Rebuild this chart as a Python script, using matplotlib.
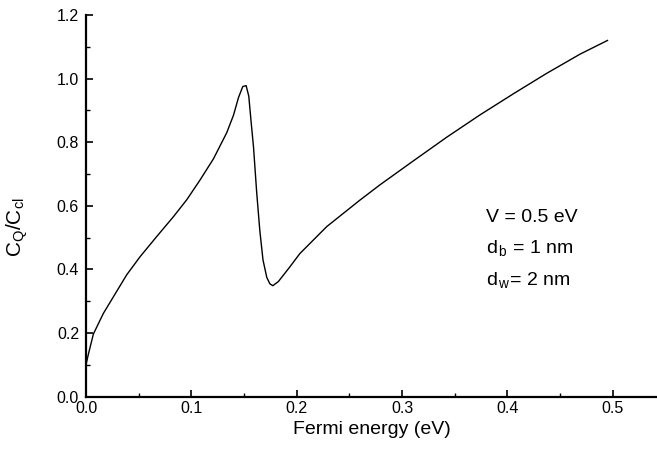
import matplotlib
matplotlib.use("Agg")
import matplotlib.pyplot as plt
from matplotlib.ticker import MultipleLocator

plt.rcParams['font.family'] = ['Liberation Sans', 'DejaVu Sans']
plt.rcParams['mathtext.fontset'] = 'custom'
plt.rcParams['mathtext.rm'] = 'Liberation Sans'
plt.rcParams['mathtext.it'] = 'Liberation Sans'

# Fermi energy (eV)
energy = [0.0, 0.002, 0.007, 0.0165, 0.026, 0.0386, 0.0513, 0.067, 0.083,
          0.0956, 0.108, 0.121, 0.1336, 0.140, 0.1447, 0.1488, 0.152,
          0.1545, 0.1567, 0.159, 0.162, 0.165, 0.168, 0.1716, 0.1745,
          0.1773, 0.1826, 0.1937, 0.203, 0.2286, 0.260, 0.279, 0.311,
          0.3425, 0.374, 0.406, 0.4375, 0.469, 0.495]
# C_Q / C_cl
ratio = [0.10, 0.13, 0.197, 0.262, 0.314, 0.383, 0.440, 0.503, 0.566,
         0.619, 0.680, 0.748, 0.830, 0.885, 0.940, 0.975, 0.978,
         0.945, 0.865, 0.785, 0.643, 0.522, 0.430, 0.375, 0.355,
         0.349, 0.362, 0.409, 0.450, 0.535, 0.618, 0.666, 0.742,
         0.816, 0.886, 0.953, 1.017, 1.077, 1.12]

xticks = [0.0, 0.1, 0.2, 0.3, 0.4, 0.5]
yticks = [0.0, 0.2, 0.4, 0.6, 0.8, 1.0, 1.2]
annotation = ["V = 0.5 eV", "d$_{\\,b}$ = 1 nm", "d$_{\\,w}$= 2 nm"]

fig = plt.figure(figsize=(6.57, 4.5), dpi=100)
ax = fig.add_axes([86/657, 1 - 396.7/450, 1 - 86/657, (396.7 - 15)/450])

ax.plot(energy, ratio, color='black', lw=1.0)

ax.set_xlim(0, 0.542)
ax.set_ylim(0, 1.2)
ax.set_xticks(xticks)
ax.set_xticklabels([f"{v:.1f}" for v in xticks])
ax.set_yticks(yticks)
ax.set_yticklabels([f"{v:.1f}" for v in yticks])
ax.xaxis.set_minor_locator(MultipleLocator(0.05))
ax.yaxis.set_minor_locator(MultipleLocator(0.1))

for s in ['top', 'right']:
    ax.spines[s].set_visible(False)
for s in ['left', 'bottom']:
    ax.spines[s].set_linewidth(1.6)

ax.tick_params(axis='both', which='major', direction='in', length=5, width=1.2,
               labelsize=11.5)
ax.tick_params(axis='both', which='minor', direction='in', length=3, width=1.0)
ax.tick_params(axis='y', which='major', pad=5)
ax.tick_params(axis='x', which='major', pad=3)

ax.set_xlabel("Fermi energy (eV)", fontsize=14)
ax.set_ylabel("C$_Q$/C$_{cl}$", fontsize=15)
ax.yaxis.set_label_coords(-0.098, 0.445)

ys = [218, 248, 280]
for t, yp in zip(annotation, ys):
    ax.text((486 - 86) / 571, (396.7 - yp) / 381.7, t, fontsize=14,
            va='center', ha='left', transform=ax.transAxes)

fig.savefig("out.png", dpi=100)
